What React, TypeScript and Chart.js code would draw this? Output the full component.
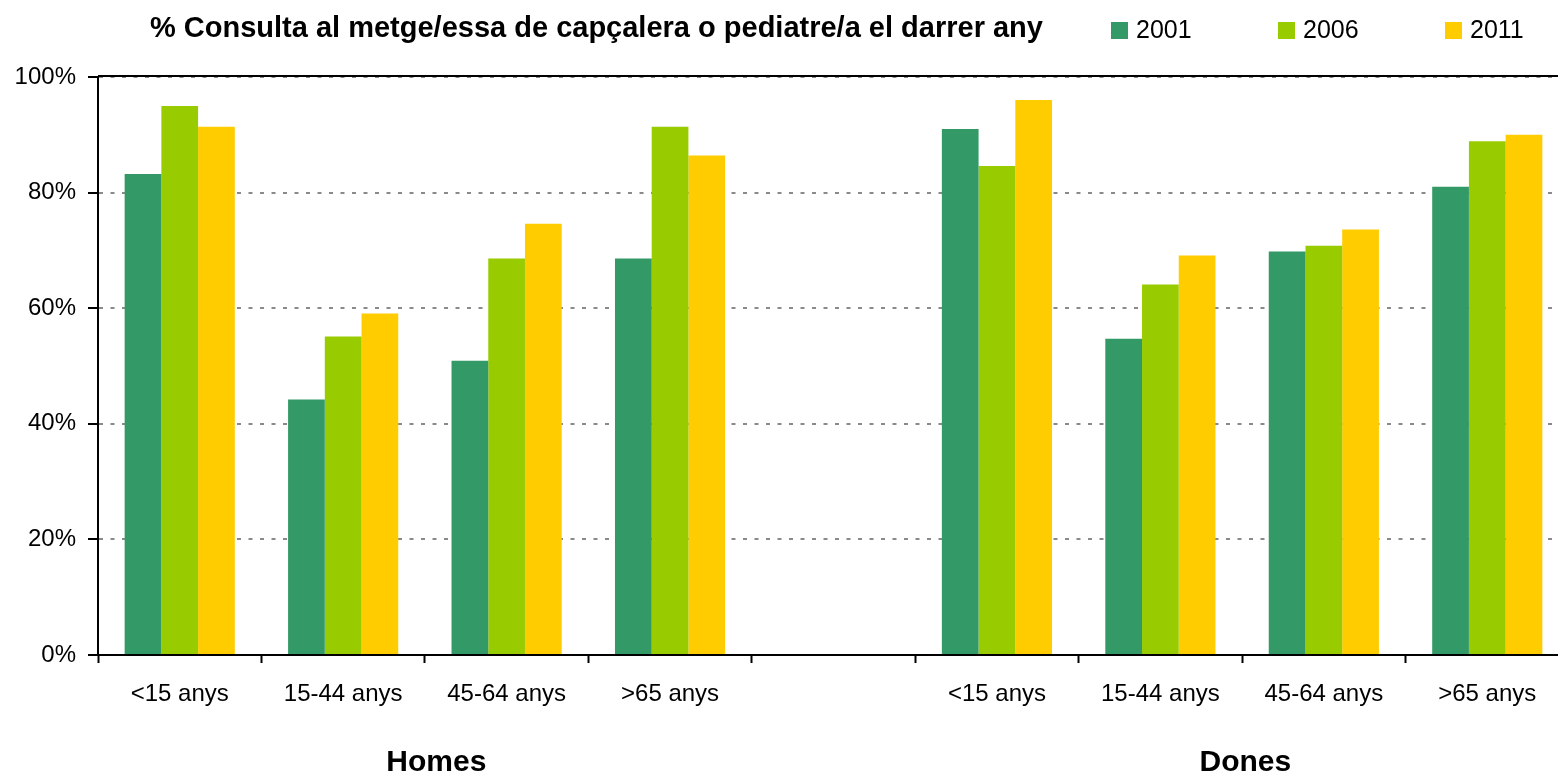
import React, { useEffect, useRef } from "react";
import { Chart, registerables } from "chart.js";

Chart.register(...registerables);

const FONT = "'Liberation Sans', Arial, Helvetica, sans-serif";

const titleText = "% Consulta al metge/essa de capçalera o pediatre/a el darrer any";
const categories = ["<15 anys", "15-44 anys", "45-64 anys", ">65 anys", "", "<15 anys", "15-44 anys", "45-64 anys", ">65 anys"];
const groupLabels = ["Homes", "Dones"];
const seriesNames = ["2001", "2006", "2011"];
const seriesColors = ["#339966", "#99CC00", "#FFCC00"];
const values2001 = [83.2, 44.2, 50.9, 68.6, null, 91.0, 54.7, 69.8, 81.0];
const values2006 = [95.0, 55.1, 68.6, 91.4, null, 84.6, 64.1, 70.8, 88.9];
const values2011 = [91.4, 59.1, 74.6, 86.4, null, 96.0, 69.1, 73.6, 90.0];
const yTicks = [0, 20, 40, 60, 80, 100];

// layout constants (positions of group captions, in category-index units)
const GROUP_LABEL_AT = [1.57, 6.52];

const CANVAS_W = 1580;
const CANVAS_H = 778;

const decorPlugin = {
  id: "decor",
  beforeDatasetsDraw(chart: any) {
    const { ctx, chartArea } = chart;
    ctx.save();
    ctx.strokeStyle = "#000";
    ctx.lineWidth = 2;
    ctx.beginPath();
    ctx.moveTo(chartArea.left, chartArea.top - 1);
    ctx.lineTo(chartArea.right, chartArea.top - 1);
    ctx.stroke();
    ctx.restore();
  },
  afterDraw(chart: any) {
    const { ctx } = chart;
    const xScale = chart.scales.x;
    ctx.save();
    // title
    ctx.fillStyle = "#000";
    ctx.font = `bold 29px ${FONT}`;
    ctx.textAlign = "left";
    ctx.textBaseline = "middle";
    ctx.fillText(titleText, 150, 29);
    // legend
    ctx.font = `25px ${FONT}`;
    chart.data.datasets.forEach((ds: any, i: number) => {
      const x0 = 1111 + i * 167;
      ctx.fillStyle = ds.backgroundColor;
      ctx.fillRect(x0, 22, 17, 17);
      ctx.fillStyle = "#000";
      ctx.fillText(ds.label, x0 + 25, 31);
    });
    // group labels
    ctx.font = `bold 30px ${FONT}`;
    ctx.textAlign = "center";
    groupLabels.forEach((g, i) => {
      const cx = xScale.getPixelForValue(GROUP_LABEL_AT[i]);
      ctx.fillText(g, cx, 763);
    });
    ctx.restore();
  },
};

export default function App() {
  const ref = useRef<HTMLCanvasElement | null>(null);
  useEffect(() => {
    if (!ref.current) return;
    const chart = new Chart(ref.current, {
      type: "bar",
      data: {
        labels: categories,
        datasets: [values2001, values2006, values2011].map((vals, i) => ({
          label: seriesNames[i],
          data: vals,
          backgroundColor: seriesColors[i],
          borderWidth: 0,
          categoryPercentage: 0.674,
          barPercentage: 1,
        })),
      },
      options: {
        responsive: false,
        animation: false,
        devicePixelRatio: 1,
        layout: { padding: { top: 77, right: 11, bottom: 0, left: 0 } },
        plugins: {
          legend: { display: false },
          title: { display: false },
          tooltip: { enabled: false },
        },
        scales: {
          x: {
            grid: {
              display: true,
              drawOnChartArea: false,
              drawTicks: true,
              tickLength: 8,
              tickColor: "#000",
              tickWidth: 2,
              offset: true,
            },
            border: { display: true, color: "#000", width: 2 },
            ticks: {
              font: { family: FONT, size: 24 },
              color: "#000",
              padding: 17,
              maxRotation: 0,
              autoSkip: false,
            },
            afterFit: (s: any) => {
              s.height = 123;
            },
          },
          y: {
            min: 0,
            max: 100,
            afterBuildTicks: (s: any) => {
              s.ticks = yTicks.map((v) => ({ value: v }));
            },
            ticks: {
              callback: (v: any) => v + "%",
              font: { family: FONT, size: 24 },
              color: "#000",
              padding: 12,
            },
            grid: {
              color: "#8a8a8a",
              lineWidth: 2,
              drawTicks: true,
              tickLength: 10,
              tickColor: "#000",
              tickWidth: 2,
              tickBorderDash: [],
            },
            border: { display: true, color: "#000", width: 2, dash: [4, 7.5] },
            afterFit: (s: any) => {
              s.width = 98;
            },
          },
        },
      },
      plugins: [decorPlugin],
    });
    return () => chart.destroy();
  }, []);
  return (
    <div
      style={{
        position: "fixed",
        left: 0,
        top: 0,
        width: 1558,
        height: 778,
        overflow: "hidden",
        background: "#fff",
      }}
    >
      <canvas ref={ref} width={CANVAS_W} height={CANVAS_H} style={{ width: CANVAS_W, height: CANVAS_H, display: "block" }} />
    </div>
  );
}
